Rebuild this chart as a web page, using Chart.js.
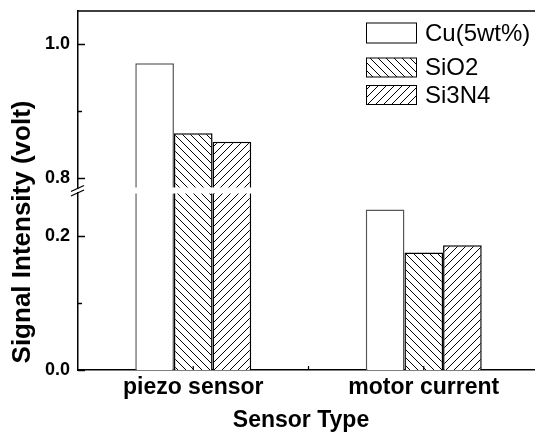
<!DOCTYPE html>
<html>
<head>
<meta charset="utf-8">
<script src="https://cdn.jsdelivr.net/npm/chart.js@4.4.1/dist/chart.umd.min.js"></script>
<style>
  html, body { margin: 0; padding: 0; background: #fff; overflow: hidden; }
  #wrap { width: 541px; height: 432px; }
</style>
</head>
<body>
<div id="wrap"><canvas id="c" width="541" height="432"></canvas></div>
<script>
// ---- data ----
const categories = ['piezo sensor', 'motor current'];
const seriesNames = ['Cu(5wt%)', 'SiO2', 'Si3N4'];
const cuValues = [0.971, 0.239];
const sio2Values = [0.867, 0.175];
const si3n4Values = [0.854, 0.186];
const yTickValues = [0.0, 0.1, 0.2, 0.8, 0.9, 1.0];
const yTickLabels = ['0.0', '', '0.2', '0.8', '', '1.0'];
const yTickMajor = [true, false, true, true, false, true];
const xTitle = 'Sensor Type';
const yTitle = 'Signal Intensity (volt)';

// ---- broken axis mapping ----
const BREAK_LOW = 0.263;   // top of lower segment
const BREAK_HIGH = 0.786;  // bottom of upper segment
const GAP = 0.009;         // visual gap between segments (axis units)
const Y_TOP = 1.049;
function toAxis(v) { return v <= BREAK_LOW ? v : v - BREAK_HIGH + BREAK_LOW + GAP; }

const FONT = '"Liberation Sans", Arial, Helvetica, sans-serif';
const canvas = document.getElementById('c');
const ctx = canvas.getContext('2d');

function hatch(dir) {
  const s = 8;
  const c = document.createElement('canvas');
  c.width = s; c.height = s;
  const g = c.getContext('2d');
  g.fillStyle = '#fff'; g.fillRect(0, 0, s, s);
  g.strokeStyle = '#000'; g.lineWidth = 1;
  g.beginPath();
  if (dir === 'back') {
    g.moveTo(-2, -2); g.lineTo(s + 2, s + 2);
    g.moveTo(-2, s - 2); g.lineTo(2, s + 2);
    g.moveTo(s - 2, -2); g.lineTo(s + 2, 2);
  } else {
    g.moveTo(-2, s + 2); g.lineTo(s + 2, -2);
    g.moveTo(-2, 2); g.lineTo(2, -2);
    g.moveTo(s - 2, s + 2); g.lineTo(s + 2, s - 2);
  }
  g.stroke();
  return ctx.createPattern(c, 'repeat');
}

const fills = ['#ffffff', hatch('back'), hatch('fwd')];
const borders = ['#555555', '#000000', '#000000'];
const rawSeries = [cuValues, sio2Values, si3n4Values];

const legendRows = [
  { cy: 33, h: 20 },
  { cy: 67.5, h: 19 },
  { cy: 95, h: 19 }
];

const decor = {
  id: 'decor',
  afterDatasetsDraw(chart) {
    const { ctx, chartArea } = chart;
    const y = chart.scales.y;
    const yA = y.getPixelForValue(BREAK_LOW + GAP);
    const yB = y.getPixelForValue(BREAK_LOW);
    ctx.save();
    ctx.fillStyle = '#fff';
    ctx.fillRect(chartArea.left + 1, yA, chartArea.right - chartArea.left, yB - yA);
    ctx.restore();
  },
  afterDraw(chart) {
    const { ctx, chartArea } = chart;
    const y = chart.scales.y, x = chart.scales.x;
    ctx.save();
    ctx.strokeStyle = '#000';
    ctx.lineWidth = 1.5;
    // top & right frame
    ctx.beginPath();
    ctx.moveTo(chartArea.left, chartArea.top);
    ctx.lineTo(chartArea.right, chartArea.top);
    ctx.lineTo(chartArea.right, chartArea.bottom);
    ctx.stroke();
    // y ticks (inward)
    yTickValues.forEach((v, i) => {
      const py = Math.round(y.getPixelForValue(toAxis(v))) + 0.5;
      const len = yTickMajor[i] ? 7 : 4;
      ctx.beginPath();
      ctx.moveTo(chartArea.left, py);
      ctx.lineTo(chartArea.left + len, py);
      ctx.stroke();
    });
    // x ticks (inward) at categories and between
    ctx.lineWidth = 1.2;
    for (let i = 0; i < categories.length; i++) {
      const px = x.getPixelForValue(i);
      ctx.beginPath(); ctx.moveTo(px, chartArea.bottom); ctx.lineTo(px, chartArea.bottom - 4); ctx.stroke();
      if (i < categories.length - 1) {
        const pm = (px + x.getPixelForValue(i + 1)) / 2;
        ctx.beginPath(); ctx.moveTo(pm, chartArea.bottom); ctx.lineTo(pm, chartArea.bottom - 4); ctx.stroke();
      }
    }
    // break marks on y axis
    const yc = (y.getPixelForValue(BREAK_LOW + GAP) + y.getPixelForValue(BREAK_LOW)) / 2;
    const ax = chartArea.left;
    ctx.fillStyle = '#fff';
    ctx.fillRect(ax - 2, yc - 1.5, 4, 3);
    ctx.lineWidth = 1.3;
    ctx.beginPath();
    ctx.moveTo(ax - 7, yc + 1); ctx.lineTo(ax + 6, yc - 5);
    ctx.moveTo(ax - 7, yc + 5.5); ctx.lineTo(ax + 6, yc - 0.5);
    ctx.stroke();
    // legend
    ctx.font = '24px ' + FONT;
    ctx.textBaseline = 'middle';
    ctx.textAlign = 'left';
    chart.data.datasets.forEach((ds, i) => {
      const r = legendRows[i];
      const bx = 366.5, bw = 50;
      const by = r.cy - r.h / 2;
      ctx.fillStyle = ds.backgroundColor;
      ctx.fillRect(bx, by, bw, r.h);
      ctx.lineWidth = 1;
      ctx.strokeStyle = '#000';
      ctx.strokeRect(bx, by, bw, r.h);
      ctx.fillStyle = '#000';
      ctx.fillText(ds.label, 425, r.cy + 1);
    });
    // x title
    ctx.fillStyle = '#000';
    ctx.font = 'bold 23px ' + FONT;
    ctx.textAlign = 'center';
    ctx.textBaseline = 'alphabetic';
    ctx.fillText(xTitle, 301, 427);
    // y title
    ctx.font = 'bold 26px ' + FONT;
    ctx.translate(23, 232);
    ctx.rotate(-Math.PI / 2);
    ctx.textAlign = 'center';
    ctx.textBaseline = 'middle';
    ctx.fillText(yTitle, 0, 0);
    ctx.restore();
  }
};

new Chart(ctx, {
  type: 'bar',
  data: {
    labels: categories,
    datasets: seriesNames.map((name, i) => ({
      label: name,
      data: rawSeries[i].map(toAxis),
      backgroundColor: fills[i],
      borderColor: borders[i],
      borderWidth: 1.5,
      borderSkipped: 'start',
      barPercentage: 1.0,
      categoryPercentage: 0.503
    }))
  },
  options: {
    responsive: false,
    animation: false,
    devicePixelRatio: 1,
    layout: { padding: { top: 11, right: 2, left: 0, bottom: 0 } },
    plugins: { legend: { display: false }, tooltip: { enabled: false } },
    scales: {
      x: {
        offset: true,
        grid: { display: false, drawTicks: false },
        border: { display: true, color: '#000', width: 1.5 },
        ticks: { color: '#000', font: { family: FONT, size: 23, weight: 'bold' }, padding: 4, maxRotation: 0 },
        title: { display: false },
        afterFit(s) { s.height = 62; s.paddingLeft = 0; s.paddingRight = 0; }
      },
      y: {
        min: 0,
        max: toAxis(Y_TOP),
        grid: { display: false, drawTicks: false },
        border: { display: true, color: '#000', width: 1.5 },
        afterBuildTicks(s) { s.ticks = yTickValues.map(v => ({ value: toAxis(v) })); },
        ticks: {
          autoSkip: false,
          color: '#000',
          font: { family: FONT, size: 18, weight: 'bold' },
          padding: 8,
          callback: (val, idx) => yTickLabels[idx]
        },
        afterFit(s) { s.width = 78; s.paddingTop = 0; s.paddingBottom = 0; }
      }
    }
  },
  plugins: [decor]
});
</script>
</body>
</html>
